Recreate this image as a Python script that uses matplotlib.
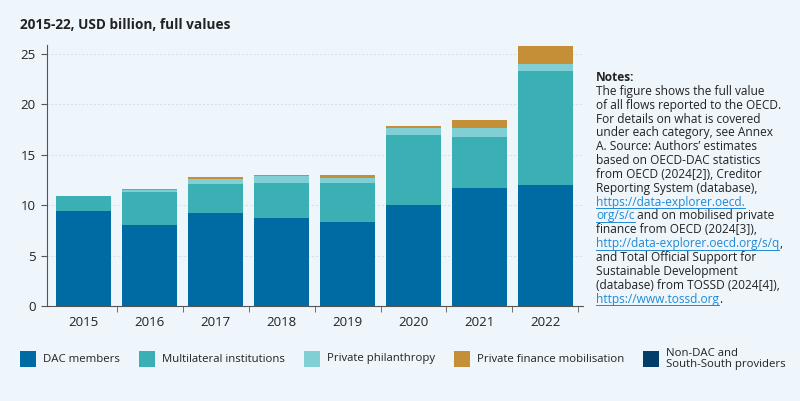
import matplotlib.pyplot as plt
from matplotlib.patches import Rectangle

plt.rcParams['font.family'] = ['Open Sans', 'DejaVu Sans']

years = ['2015', '2016', '2017', '2018', '2019', '2020', '2021', '2022']
dac = [9.45, 8.07, 9.23, 8.70, 8.37, 10.06, 11.69, 12.02]
multilateral = [1.48, 3.25, 2.89, 3.48, 3.85, 6.90, 5.08, 11.26]
philanthropy = [0.02, 0.18, 0.50, 0.77, 0.53, 0.74, 0.93, 0.69]
private_mob = [0.0, 0.10, 0.23, 0.03, 0.23, 0.20, 0.80, 1.80]
non_dac = [0.0, 0.0, 0.0, 0.0, 0.0, 0.0, 0.0, 0.05]

series = [
    ('DAC members', dac, '#006ba2'),
    ('Multilateral institutions', multilateral, '#3bb0b4'),
    ('Private philanthropy', philanthropy, '#80cfd4'),
    ('Private finance mobilisation', private_mob, '#c48f37'),
    ('Non-DAC and\nSouth-South providers', non_dac, '#033e6b'),
]

W, H = 800, 401
bg = '#eef6fc'
fig = plt.figure(figsize=(8, 4.01), dpi=100, facecolor=bg)
ax = fig.add_axes([46.7 / W, 95 / H, 536 / W, 261 / H], facecolor=bg)

x = list(range(len(years)))
bottom = [0.0] * len(years)
for name, vals, col in series:
    ax.bar(x, vals, bottom=bottom, width=0.83, color=col, label=name, zorder=3)
    bottom = [b + v for b, v in zip(bottom, vals)]

ax.set_xlim(-0.56, 7.565)
ax.set_ylim(0, 25.9)
ax.set_yticks([0, 5, 10, 15, 20, 25])
ax.set_xticks(x)
ax.set_xticklabels(years)
ax.set_xticks([i + 0.5 for i in range(0, 8)], minor=True)
ax.tick_params(axis='x', which='major', length=0, labelsize=9.5, pad=7, colors='#222222')
ax.tick_params(axis='x', which='minor', length=4, color='#555555')
ax.tick_params(axis='y', length=4, labelsize=9.5, colors='#222222', color='#555555', pad=4)
ax.grid(axis='y', color='#d6dde4', linestyle=(0, (2, 2)), linewidth=0.7, zorder=0)
for s in ['top', 'right']:
    ax.spines[s].set_visible(False)
for s in ['left', 'bottom']:
    ax.spines[s].set_color('#555555')

fig.text(20 / W, 1 - 25 / H, '2015-22, USD billion, full values', fontsize=9.8,
         fontweight='bold', color='#222222', va='center')

fig.canvas.draw()
renderer = fig.canvas.get_renderer()

# legend drawn by hand to match spacing
lx = 20
ly = H - 359
for name, vals, col in series:
    fig.add_artist(Rectangle((lx / W, (ly - 8) / H), 16 / W, 16 / H, facecolor=col,
                             edgecolor='none', transform=fig.transFigure))
    t = fig.text((lx + 23) / W, ly / H, name, fontsize=8.2, color='#222222',
                 va='center', linespacing=1.1)
    bb = t.get_window_extent(renderer)
    lx = bb.x1 + 19

# notes block
lines = [
    [('Notes:', 'bold')],
    [('The figure shows the full value', None)],
    [('of all flows reported to the OECD.', None)],
    [('For details on what is covered', None)],
    [('under each category, see Annex', None)],
    [('A. Source: Authors\u2019 estimates', None)],
    [('based on OECD-DAC statistics', None)],
    [('from OECD (2024[2]), Creditor', None)],
    [('Reporting System (database),', None)],
    [('https://data-explorer.oecd.', 'link')],
    [('org/s/c', 'link'), (' and on mobilised private', None)],
    [('finance from OECD (2024[3]),', None)],
    [('http://data-explorer.oecd.org/s/q', 'link'), (',', None)],
    [('and Total Official Support for', None)],
    [('Sustainable Development', None)],
    [('(database) from TOSSD (2024[4]),', None)],
    [('https://www.tossd.org', 'link'), ('.', None)],
]

x0 = 596
y0 = H - 81
step = 13.85
for i, parts in enumerate(lines):
    xp = x0
    yp = y0 - i * step
    for txt, kind in parts:
        col = '#1f8ad6' if kind == 'link' else '#222222'
        t = fig.text(xp / W, yp / H, txt, fontsize=8.6, color=col,
                     fontweight='bold' if kind == 'bold' else 'normal', va='baseline')
        bb = t.get_window_extent(renderer)
        if kind == 'link':
            fig.add_artist(plt.Line2D([bb.x0 / W, bb.x1 / W],
                                      [(yp - 2.5) / H, (yp - 2.5) / H],
                                      color=col, linewidth=0.7, transform=fig.transFigure))
        xp = bb.x1

fig.savefig('out.png', dpi=100, facecolor=bg)
